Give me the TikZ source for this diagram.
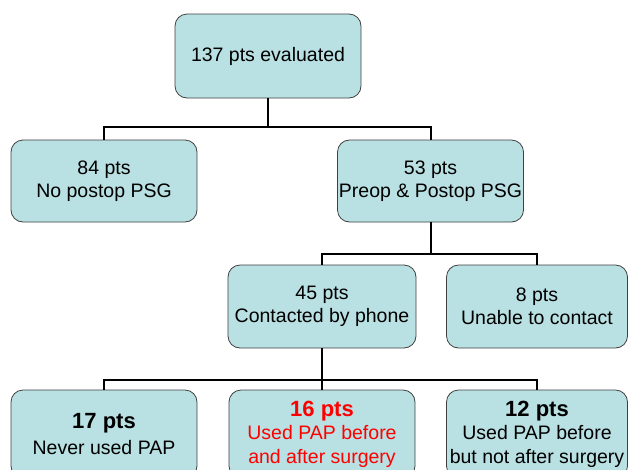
\documentclass[tikz,border=0pt]{standalone}
\usepackage{fontspec}
\setmainfont{Liberation Sans}
\begin{document}
\begin{tikzpicture}[x=1pt,y=-1pt,
  box/.style={draw=black!75, line width=0.8pt, fill=boxfill, rounded corners=12pt,
    inner sep=0pt, align=center, font=\fontsize{19.5}{23.5}\selectfont},
  link/.style={draw=black, line width=2pt}]
\definecolor{boxfill}{HTML}{B9E0E2}
\definecolor{hired}{HTML}{FF0000}
\clip (0,0) rectangle (628,469);
\fill[white] (0,0) rectangle (628,469);

% first level
\node[box, minimum width=186pt, minimum height=84pt] (all) at (268,56) {137 pts evaluated};

% second level
\node[box, minimum width=186pt, minimum height=82pt] (nopost) at (104,181) {84 pts\\No postop PSG};
\node[box, minimum width=186pt, minimum height=82pt] (prepost) at (430.5,181) {53 pts\\Preop \& Postop PSG};

% third level
\node[box, minimum width=188pt, minimum height=83pt] (phone) at (322,306.5) {45 pts\\Contacted by phone};
\node[box, minimum width=181pt, minimum height=83pt] (nocontact) at (537,306.5) {8 pts\\Unable to contact};

% fourth level
\node[box, minimum width=186pt, minimum height=88pt] (never) at (104,434)
  {{\fontsize{22}{26}\selectfont\bfseries 17 pts}\\[2pt]Never used PAP};
\node[box, minimum width=186pt, minimum height=88pt, text=hired] (both) at (322,434)
  {{\fontsize{22}{24}\selectfont\bfseries 16 pts}\\Used PAP before\\and after surgery};
\node[box, minimum width=181pt, minimum height=88pt] (before) at (537,434)
  {{\fontsize{22}{24}\selectfont\bfseries 12 pts}\\Used PAP before\\but not after surgery};

% connectors
\coordinate (j1) at (268,127);
\coordinate (j2) at (430.5,254);
\coordinate (j3) at (322,380);
\draw[link] (all.south) -- (j1);
\draw[link] (j1) -| (nopost.north);
\draw[link] (j1) -| (prepost.north);
\draw[link] (prepost.south) -- (j2);
\draw[link] (j2) -| (phone.north);
\draw[link] (j2) -| (nocontact.north);
\draw[link] (phone.south) -- (j3);
\draw[link] (j3) -| (never.north);
\draw[link] (j3) -| (both.north);
\draw[link] (j3) -| (before.north);
\end{tikzpicture}
\end{document}
